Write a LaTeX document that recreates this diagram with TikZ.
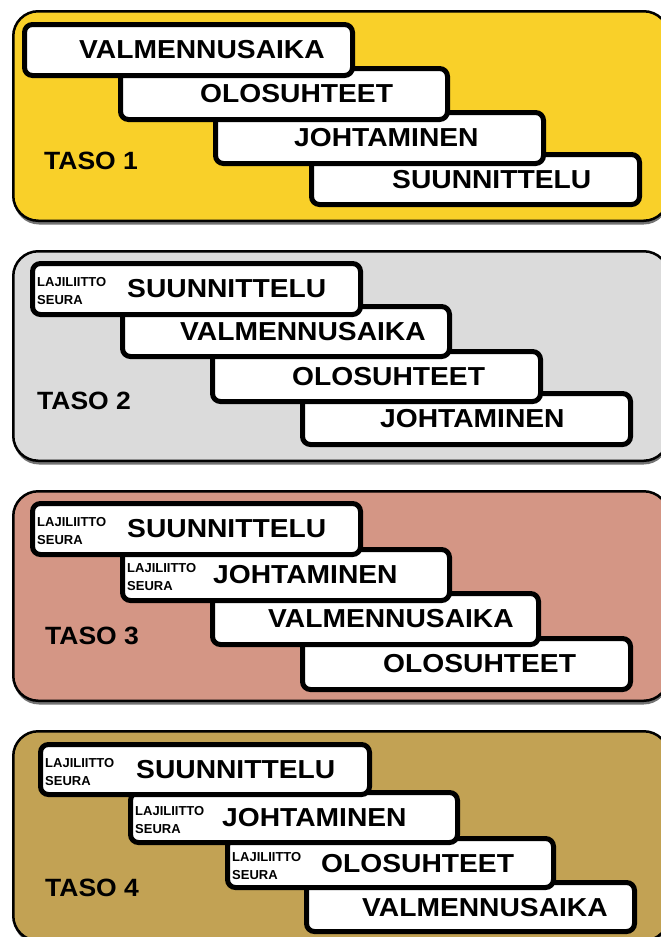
\documentclass[tikz,border=0pt]{standalone}
\usepackage{fontspec}
\newfontfamily\lblfont[FakeStretch=1.085]{Liberation Sans}
\newfontfamily\tasofont[FakeStretch=1.06]{Liberation Sans}
\newfontfamily\tagfont{Liberation Sans}
\definecolor{level1}{RGB}{249,208,41}
\definecolor{level2}{RGB}{219,219,219}
\definecolor{level3}{RGB}{212,150,133}
\definecolor{level4}{RGB}{194,162,84}

% one white step box: corners x1 y1 x2 y2, text left edge, text name, text
\newcommand\stepcard[7]{%
  \draw[card] (#1+2.5,#2+2.5) rectangle (#3-2.5,#4-2.5);
  \node[main] (#6) at (#5,#2+28) {#7};}
% the two-line tag in the left part of a box: box left, box top, name
\newcommand\cardtag[3]{%
  \node[tag] (#3) at (#1+7,#2+30) {LAJILIITTO\\SEURA};}
% one coloured level panel: top y, fill colour
\newcommand\levelpanel[2]{%
  \fill[black!55, rounded corners=25pt] (14,#1+4) rectangle (668.75,#1+214.5);
  \draw[panel, fill=#2] (13.25,#1+1.25) rectangle (668.75,#1+210.75);}

\begin{document}
\begin{tikzpicture}[x=1pt,y=-1pt,
  panel/.style={draw=black, line width=2.5pt, rounded corners=25pt},
  card/.style={draw=black, fill=white, line width=5pt, rounded corners=8pt},
  main/.style={font=\lblfont\bfseries\fontsize{26}{26}\selectfont, inner sep=0pt, anchor=west},
  taso/.style={font=\tasofont\bfseries\fontsize{25}{25}\selectfont, inner sep=0pt, anchor=west},
  tag/.style={font=\tagfont\bfseries\fontsize{13}{18}\selectfont, align=left, inner sep=0pt, anchor=west}]
\useasboundingbox (0,0) rectangle (661,937);
\clip (0,0) rectangle (661,937);
\fill[white] (0,0) rectangle (661,937);

% ---- level 1
\levelpanel{10}{level1}
\node[taso] (t1) at (44,161) {TASO 1};
\stepcard{309}{152}{642}{207}{392}{a4}{SUUNNITTELU}
\stepcard{213}{110}{546}{166}{294}{a3}{JOHTAMINEN}
\stepcard{118}{66}{450}{122}{200}{a2}{OLOSUHTEET}
\stepcard{22}{22}{355}{78}{79}{a1}{VALMENNUSAIKA}

% ---- level 2
\levelpanel{250}{level2}
\node[taso] (t2) at (37,401) {TASO 2};
\stepcard{300}{391}{633}{447}{380}{b4}{JOHTAMINEN}
\stepcard{210}{349}{543}{404}{292}{b3}{OLOSUHTEET}
\stepcard{120}{304}{452}{359}{180}{b2}{VALMENNUSAIKA}
\stepcard{30}{261}{363}{317}{127}{b1}{SUUNNITTELU}
\cardtag{30}{261}{b1tag}

% ---- level 3
\levelpanel{490}{level3}
\node[taso] (t3) at (45,636) {TASO 3};
\stepcard{300}{636}{633}{692}{383}{c4}{OLOSUHTEET}
\stepcard{210}{591}{541}{647}{268}{c3}{VALMENNUSAIKA}
\stepcard{120}{547}{452}{603}{213}{c2}{JOHTAMINEN}
\cardtag{120}{547}{c2tag}
\stepcard{30}{501}{363}{557}{127}{c1}{SUUNNITTELU}
\cardtag{30}{501}{c1tag}

% ---- level 4
\levelpanel{730}{level4}
\node[taso] (t4) at (45,888) {TASO 4};
\stepcard{304}{880}{637}{934}{362}{d4}{VALMENNUSAIKA}
\stepcard{225}{836}{556}{890}{321}{d3}{OLOSUHTEET}
\cardtag{225}{836}{d3tag}
\stepcard{128}{790}{460}{845}{222}{d2}{JOHTAMINEN}
\cardtag{128}{790}{d2tag}
\stepcard{38}{742}{372}{797}{136}{d1}{SUUNNITTELU}
\cardtag{38}{742}{d1tag}
\end{tikzpicture}
\end{document}
